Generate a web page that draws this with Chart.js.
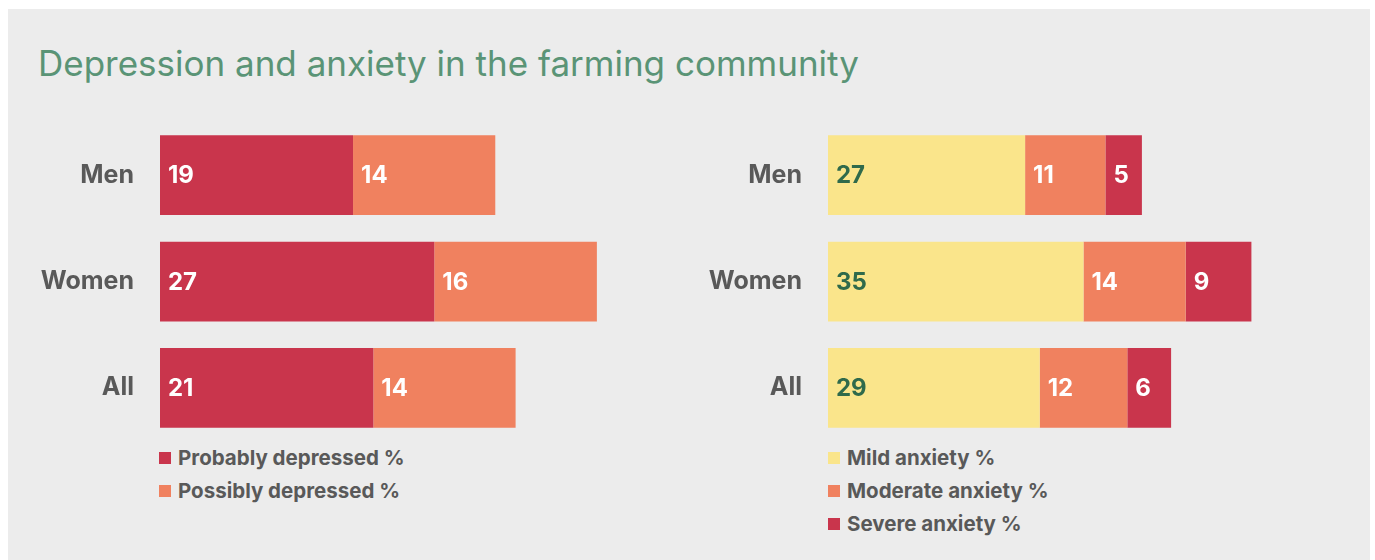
<!DOCTYPE html>
<html>
<head>
<meta charset="utf-8">
<script src="https://cdn.jsdelivr.net/npm/chart.js@4"></script>
<style>
    body { margin: 0; background: #ffffff; font-family: 'Inter', 'Noto Sans', sans-serif; }
    #panel { position: absolute; left: 8px; top: 9px; width: 1362px; height: 551px; background: #ececec; }
    #title { position: absolute; left: 38px; top: 42px; margin: 0; font-size: 35px; font-weight: 400; color: #5a9476; white-space: nowrap; }
    .chart-box { position: absolute; }
    .legend { position: absolute; margin: 0; padding: 0; list-style: none; }
    .legend li { height: 33px; display: flex; align-items: center; font-size: 20.5px; font-weight: 700; color: #595959; white-space: nowrap; }
    .legend li span { display: inline-block; width: 12px; height: 12px; margin-right: 7px; }
</style>
</head>
<body>
<div id="panel"></div>
<h1 id="title">Depression and anxiety in the farming community</h1>
<div class="chart-box" style="left:0px; top:122px; width:668px; height:319px;"><canvas id="depressionChart"></canvas></div>
<div class="chart-box" style="left:680px; top:122px; width:586px; height:319px;"><canvas id="anxietyChart"></canvas></div>
<ul class="legend" id="depressionLegend" style="left:159px; top:441px;"></ul>
<ul class="legend" id="anxietyLegend" style="left:828px; top:441px;"></ul>

<script>
// Depression and anxiety in the farming community

var categories = ['Men', 'Women', 'All'];

var probablyDepressed = [19, 27, 21];
var possiblyDepressed = [14, 16, 14];

var mildAnxiety = [27, 35, 29];
var moderateAnxiety = [11, 14, 12];
var severeAnxiety = [5, 9, 6];

var RED = '#c9354c';
var ORANGE = '#f0815f';
var YELLOW = '#fae58b';
var LABEL_GRAY = '#595959';
var FONT = "'Inter', 'Noto Sans', sans-serif";

// Draw the value inside each bar, near its left edge
var barValueLabels = {
    id: 'barValueLabels',
    afterDatasetsDraw: function(chart) {
        var ctx = chart.ctx;
        ctx.save();
        ctx.font = '700 24px ' + FONT;
        ctx.textAlign = 'left';
        ctx.textBaseline = 'middle';
        chart.data.datasets.forEach(function(ds, i) {
            var meta = chart.getDatasetMeta(i);
            ctx.fillStyle = ds.valueColor || '#ffffff';
            meta.data.forEach(function(bar, j) {
                var left = Math.min(bar.base, bar.x);
                ctx.fillText(String(ds.data[j]), left + 8, bar.y + 1);
            });
        });
        ctx.restore();
    }
};

function buildChart(canvasId, datasets, xMax, axisWidth) {
    return new Chart(document.getElementById(canvasId), {
        type: 'bar',
        data: { labels: categories, datasets: datasets },
        options: {
            indexAxis: 'y',
            responsive: true,
            maintainAspectRatio: false,
            animation: false,
            layout: { padding: 0 },
            datasets: { bar: { categoryPercentage: 1, barPercentage: 0.75, borderWidth: 0 } },
            plugins: {
                legend: { display: false },
                tooltip: { enabled: false }
            },
            scales: {
                x: { stacked: true, display: false, min: 0, max: xMax },
                y: {
                    stacked: true,
                    grid: { display: false },
                    border: { display: false },
                    ticks: {
                        color: LABEL_GRAY,
                        padding: 18,
                        font: { family: FONT, size: 25, weight: '700' }
                    },
                    afterFit: function(scale) {
                        scale.width = axisWidth;
                        // no extra room above/below the bars
                        scale.paddingTop = 0;
                        scale.paddingBottom = 0;
                    }
                }
            }
        },
        plugins: [barValueLabels]
    });
}

function buildLegend(listId, chart) {
    var list = document.getElementById(listId);
    chart.data.datasets.forEach(function(ds) {
        var li = document.createElement('li');
        var box = document.createElement('span');
        box.style.background = ds.backgroundColor;
        li.appendChild(box);
        li.appendChild(document.createTextNode(ds.label));
        list.appendChild(li);
    });
}

var depressionChart = buildChart('depressionChart', [
    { label: 'Probably depressed %', data: probablyDepressed, backgroundColor: RED, valueColor: '#ffffff' },
    { label: 'Possibly depressed %', data: possiblyDepressed, backgroundColor: ORANGE, valueColor: '#ffffff' }
], 50, 160);

var anxietyChart = buildChart('anxietyChart', [
    { label: 'Mild anxiety %', data: mildAnxiety, backgroundColor: YELLOW, valueColor: '#2f6a4b' },
    { label: 'Moderate anxiety %', data: moderateAnxiety, backgroundColor: ORANGE, valueColor: '#ffffff' },
    { label: 'Severe anxiety %', data: severeAnxiety, backgroundColor: RED, valueColor: '#ffffff' }
], 60, 148);

buildLegend('depressionLegend', depressionChart);
buildLegend('anxietyLegend', anxietyChart);
</script>
</body>
</html>
